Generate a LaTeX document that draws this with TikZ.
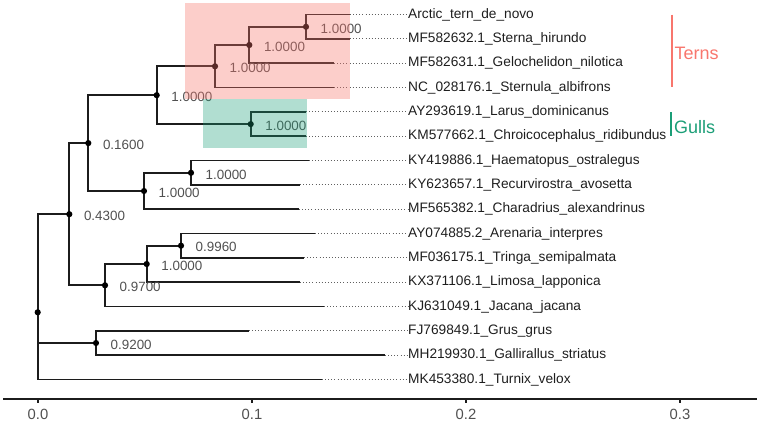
\documentclass[tikz,border=0pt]{standalone}
\usepackage{fontspec}
\setmainfont{Liberation Sans}
\definecolor{treecol}{HTML}{1C1C1C}
\definecolor{labgrey}{HTML}{505050}
\definecolor{tiptext}{HTML}{1E1E1E}
\definecolor{ternred}{HTML}{F8766D}
\definecolor{gullgreen}{HTML}{1B9E77}
\definecolor{dotgrey}{HTML}{606060}
\begin{document}
\begin{tikzpicture}[x=1pt,y=-1pt,
  edge/.style={draw=treecol,line width=1.7pt},
  leader/.style={draw=dotgrey,line width=1.1pt,dash pattern=on 1pt off 2.1pt},
  tiplab/.style={anchor=west,inner sep=0pt,text=tiptext,font=\fontsize{13.7}{14}\selectfont},
  bootlab/.style={anchor=west,inner sep=0pt,text=labgrey,font=\fontsize{13.4}{14}\selectfont},
  axislab/.style={inner sep=0pt,text=labgrey,font=\fontsize{14.8}{15}\selectfont},
  cladelab/.style={anchor=west,inner sep=0pt,font=\fontsize{18}{18}\selectfont},
  ndot/.style={fill=black,circle,inner sep=0pt,minimum size=6.2pt}]
\useasboundingbox (0,0) rectangle (760,423);
% internal nodes
\coordinate (root) at (37.7,312.3);
\coordinate (n043) at (69.3,214.2);
\coordinate (n016) at (88.3,143.1);
\coordinate (ntg) at (156.7,95.2);
\coordinate (ntern) at (215,66.3);
\coordinate (nst) at (249.3,45);
\coordinate (nas) at (306,26.8);
\coordinate (ngull) at (250.7,124.1);
\coordinate (nhg) at (144,191);
\coordinate (nhr) at (191,172.8);
\coordinate (n097) at (105,285.3);
\coordinate (nb) at (146.7,264);
\coordinate (n0996) at (181,245.7);
\coordinate (n092) at (96,343);
% tips
\foreach \i/\xe/\lab in {
 1/350/Arctic\_tern\_de\_novo,
 2/350/MF582632.1\_Sterna\_hirundo,
 3/334/MF582631.1\_Gelochelidon\_nilotica,
 4/334/NC\_028176.1\_Sternula\_albifrons,
 5/306/AY293619.1\_Larus\_dominicanus,
 6/306/KM577662.1\_Chroicocephalus\_ridibundus,
 7/309/KY419886.1\_Haematopus\_ostralegus,
 8/300/KY623657.1\_Recurvirostra\_avosetta,
 9/299/MF565382.1\_Charadrius\_alexandrinus,
 10/315/AY074885.2\_Arenaria\_interpres,
 11/304/MF036175.1\_Tringa\_semipalmata,
 12/300/KX371106.1\_Limosa\_lapponica,
 13/324/KJ631049.1\_Jacana\_jacana,
 14/249/FJ769849.1\_Grus\_grus,
 15/385/MH219930.1\_Gallirallus\_striatus,
 16/322/MK453380.1\_Turnix\_velox}{
  \pgfmathsetmacro{\yy}{14.6+24.33*(\i-1)}
  \coordinate (t\i) at (\xe,\yy);
  \node[tiplab] (l\i) at (408,\yy) {\lab};
  \draw[leader] (t\i) -- (l\i.west);
}
% edges
\foreach \p/\c in {nas/t1,nas/t2,nst/nas,nst/t3,ntern/nst,ntern/t4,
  ngull/t5,ngull/t6,ntg/ntern,ntg/ngull,
  nhr/t7,nhr/t8,nhg/nhr,nhg/t9,n016/ntg,n016/nhg,
  n0996/t10,n0996/t11,nb/n0996,nb/t12,n097/nb,n097/t13,
  n043/n016,n043/n097,n092/t14,n092/t15,
  root/n043,root/n092,root/t16}
  \draw[edge] (\p) |- (\c);
% node dots
\foreach \n in {root,n043,n016,ntg,ntern,nst,nas,ngull,nhg,nhr,n097,nb,n0996,n092}
  \node[ndot] at (\n) {};
% bootstrap labels
\foreach \n/\v in {nas/1.0000,nst/1.0000,ntern/1.0000,ntg/1.0000,ngull/1.0000,
  n016/0.1600,nhr/1.0000,nhg/1.0000,n043/0.4300,n0996/0.9960,nb/1.0000,
  n097/0.9700,n092/0.9200}
  \node[bootlab] (b\n) at ([shift={(14.5,1.6)}]\n) {\v};
% highlights
\fill[ternred,fill opacity=0.36] (185,2.7) rectangle (350,99);
\fill[gullgreen,fill opacity=0.34] (203,99) rectangle (307,148);
% clade bars
\coordinate (tb1) at (671.7,14.7);
\coordinate (tb2) at (671.7,87.3);
\draw[ternred,line width=1.6pt] (tb1) -- (tb2);
\node[cladelab,text=ternred] (terns) at (674.5,53) {Terns};
\coordinate (gb1) at (671,112);
\coordinate (gb2) at (671,135.5);
\draw[gullgreen,line width=1.6pt] (gb1) -- (gb2);
\node[cladelab,text=gullgreen] (gulls) at (674,127) {Gulls};
% axis
\coordinate (ax1) at (3,399);
\coordinate (ax2) at (757,399);
\draw[treecol,line width=1.6pt] (ax1) -- (ax2);
\foreach \v/\xx in {0.0/38,0.1/252,0.2/466,0.3/680}{
  \draw[treecol,line width=1.2pt] (\xx,399) -- (\xx,403);
  \node[axislab] (ax\v) at (\xx,414.5) {\v};
}
\end{tikzpicture}
\end{document}
